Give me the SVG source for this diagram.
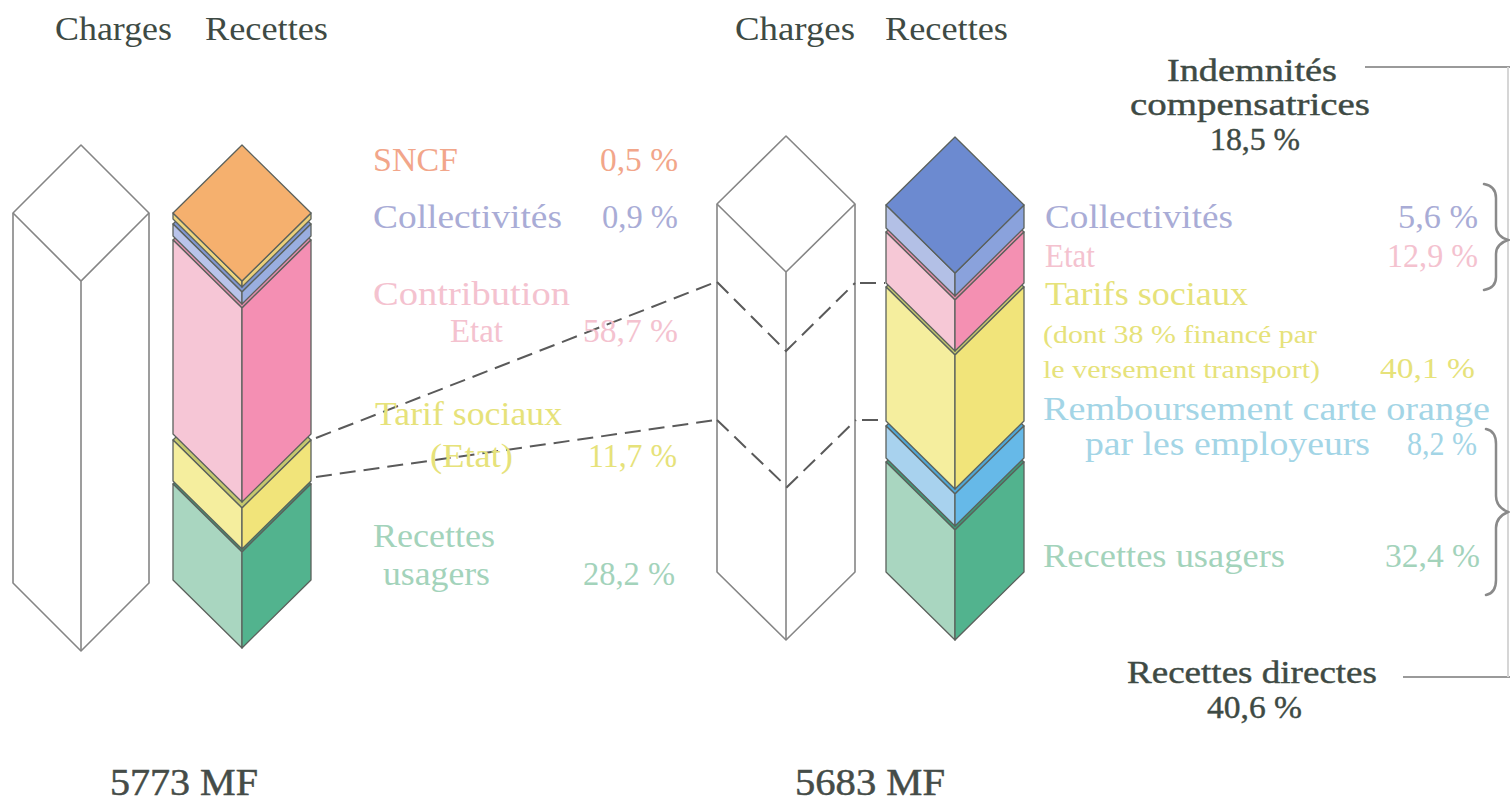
<svg xmlns="http://www.w3.org/2000/svg" width="1510" height="804" viewBox="0 0 1510 804">
<style>
text{font-family:"Liberation Serif","DejaVu Serif",serif;font-size:34px}
.hd{fill:#3e4a44}
.dk{fill:#3e4a44;stroke:#3e4a44;stroke-width:0.4;font-size:31px}
.tot{fill:#454c48;font-size:38px;stroke:#454c48;stroke-width:0.5}
.or{fill:#f2a68a}
.co{fill:#a9acd6}
.pk{fill:#f4c2cf}
.ye{fill:#e6e27a}
.gr{fill:#a3d3bb}
.lb{fill:#a3d5e6}
.sm{font-size:25px}
.md{font-size:30px}
.ch{fill:#fff;stroke:#858585;stroke-width:1.6;stroke-linejoin:round}
.chl{fill:none;stroke:#858585;stroke-width:1.6}
.f{stroke:#5b615c;stroke-width:1.3;stroke-linejoin:round}
.dash{fill:none;stroke:#5a5a5a;stroke-width:2;stroke-dasharray:16 8}
.br{fill:none;stroke:#8a8a8a;stroke-width:2.5;stroke-linecap:round}
.rl{fill:none;stroke:#9a9a9a;stroke-width:2}
</style>

<g id="headers">
<text class="hd" x="55" y="40" textLength="117" lengthAdjust="spacingAndGlyphs">Charges</text>
<text class="hd" x="205" y="40" textLength="123" lengthAdjust="spacingAndGlyphs">Recettes</text>
<text class="hd" x="735" y="40" textLength="120" lengthAdjust="spacingAndGlyphs">Charges</text>
<text class="hd" x="885" y="40" textLength="123" lengthAdjust="spacingAndGlyphs">Recettes</text>
</g>

<g id="charges-left">
<path class="ch" d="M81,145 L149,213 L149,583 L81,651 L13,583 L13,213 Z"/>
<path class="chl" d="M13,213 L81,281 L149,213 M81,281 L81,651"/>
</g>

<g id="recettes-left">
<path class="f" fill="#3f9a78" d="M242,416 L311,484 L242,552 L173,484 Z"/>
<path class="f" fill="#a9d6c0" d="M173,484 L242,552 L242,648 L173,580 Z"/>
<path class="f" fill="#52b38e" d="M242,552 L311,484 L311,580 L242,648 Z"/>
<path class="f" fill="#c5c86e" d="M242,372 L311,440 L242,508 L173,440 Z"/>
<path class="f" fill="#f5ee9e" d="M173,440 L242,508 L242,549 L173,481 Z"/>
<path class="f" fill="#f1e47a" d="M242,508 L311,440 L311,481 L242,549 Z"/>
<path class="f" fill="#e08cab" d="M242,172 L311,240 L242,308 L173,240 Z"/>
<path class="f" fill="#f6c6d6" d="M173,240 L242,308 L242,502 L173,434 Z"/>
<path class="f" fill="#f48fb3" d="M242,308 L311,240 L311,434 L242,502 Z"/>
<path class="f" fill="#7f96cf" d="M242,156 L311,224 L242,292 L173,224 Z"/>
<path class="f" fill="#b9c4ea" d="M173,224 L242,292 L242,304 L173,236 Z"/>
<path class="f" fill="#9aaee0" d="M242,292 L311,224 L311,236 L242,304 Z"/>
<path class="f" fill="#eed67e" d="M173,213 L242,281 L242,287 L173,219 Z"/>
<path class="f" fill="#ead07a" d="M242,281 L311,213 L311,219 L242,287 Z"/>
<path class="f" fill="#f5b06e" d="M242,145 L311,213 L242,281 L173,213 Z"/>
</g>

<g id="charges-right">
<path class="ch" d="M786,136 L855,204 L855,572 L786,640 L717,572 L717,204 Z"/>
<path class="chl" d="M717,204 L786,272 L855,204 M786,272 L786,640"/>
</g>

<g id="recettes-right">
<path class="f" fill="#3f9a78" d="M955,394 L1024,462 L955,530 L886,462 Z"/>
<path class="f" fill="#a9d6c0" d="M886,462 L955,530 L955,640 L886,572 Z"/>
<path class="f" fill="#52b38e" d="M955,530 L1024,462 L1024,572 L955,640 Z"/>
<path class="f" fill="#4fa6d6" d="M955,358 L1024,426 L955,494 L886,426 Z"/>
<path class="f" fill="#a8d2ee" d="M886,426 L955,494 L955,526 L886,458 Z"/>
<path class="f" fill="#66b9e8" d="M955,494 L1024,426 L1024,458 L955,526 Z"/>
<path class="f" fill="#c5c86e" d="M955,219 L1024,287 L955,355 L886,287 Z"/>
<path class="f" fill="#f5ee9e" d="M886,287 L955,355 L955,489 L886,421 Z"/>
<path class="f" fill="#f1e47a" d="M955,355 L1024,287 L1024,421 L955,489 Z"/>
<path class="f" fill="#e38aa8" d="M955,164 L1024,232 L955,300 L886,232 Z"/>
<path class="f" fill="#f6c8d6" d="M886,232 L955,300 L955,351 L886,283 Z"/>
<path class="f" fill="#f490b2" d="M955,300 L1024,232 L1024,283 L955,351 Z"/>
<path class="f" fill="#b3c0e6" d="M886,205 L955,273 L955,296 L886,228 Z"/>
<path class="f" fill="#8aa2dc" d="M955,273 L1024,205 L1024,228 L955,296 Z"/>
<path class="f" fill="#6c8ad0" d="M955,137 L1024,205 L955,273 L886,205 Z"/>
</g>

<g id="connectors">
<path class="dash" d="M316,438 L716,282"/>
<path class="dash" d="M316,477 L716,420"/>
<path class="dash" d="M717,282 L786,351 L855,283"/>
<path class="dash" d="M717,420 L787,487 L856,420"/>
<path class="dash" d="M860,283 L885,283"/>
<path class="dash" d="M862,420 L885,420"/>
</g>

<g id="labels-left">
<text class="or" x="373" y="171" textLength="85" lengthAdjust="spacingAndGlyphs">SNCF</text>
<text class="or" x="600" y="171" textLength="78" lengthAdjust="spacingAndGlyphs">0,5 %</text>
<text class="co" x="373" y="228" textLength="189" lengthAdjust="spacingAndGlyphs">Collectivités</text>
<text class="co" x="602" y="228" textLength="76" lengthAdjust="spacingAndGlyphs">0,9 %</text>
<text class="pk" x="373" y="305" textLength="197" lengthAdjust="spacingAndGlyphs">Contribution</text>
<text class="pk" x="450" y="342" textLength="53" lengthAdjust="spacingAndGlyphs">Etat</text>
<text class="pk" x="583" y="342" textLength="95" lengthAdjust="spacingAndGlyphs">58,7 %</text>
<text class="ye" x="375" y="425" textLength="187" lengthAdjust="spacingAndGlyphs">Tarif sociaux</text>
<text class="ye" x="430" y="467" textLength="83" lengthAdjust="spacingAndGlyphs">(Etat)</text>
<text class="ye" x="588" y="467" textLength="89" lengthAdjust="spacingAndGlyphs">11,7 %</text>
<text class="gr" x="373" y="547" textLength="122" lengthAdjust="spacingAndGlyphs">Recettes</text>
<text class="gr" x="383" y="585" textLength="107" lengthAdjust="spacingAndGlyphs">usagers</text>
<text class="gr" x="583" y="585" textLength="92" lengthAdjust="spacingAndGlyphs">28,2 %</text>
</g>

<g id="labels-right">
<text class="dk" x="1167" y="81" textLength="170" lengthAdjust="spacingAndGlyphs">Indemnités</text>
<text class="dk" x="1130" y="115" textLength="240" lengthAdjust="spacingAndGlyphs">compensatrices</text>
<text class="dk" x="1210" y="150" textLength="90" lengthAdjust="spacingAndGlyphs">18,5 %</text>
<text class="co" x="1045" y="228" textLength="188" lengthAdjust="spacingAndGlyphs">Collectivités</text>
<text class="co" x="1398" y="228" textLength="80" lengthAdjust="spacingAndGlyphs">5,6 %</text>
<text class="pk" x="1045" y="267" textLength="50" lengthAdjust="spacingAndGlyphs">Etat</text>
<text class="pk" x="1387" y="267" textLength="91" lengthAdjust="spacingAndGlyphs">12,9 %</text>
<text class="ye" x="1045" y="305" textLength="203" lengthAdjust="spacingAndGlyphs">Tarifs sociaux</text>
<text class="ye sm" x="1043" y="343" textLength="274" lengthAdjust="spacingAndGlyphs">(dont 38 % financé par</text>
<text class="ye sm" x="1043" y="378" textLength="277" lengthAdjust="spacingAndGlyphs">le versement transport)</text>
<text class="ye md" x="1380" y="378" textLength="95" lengthAdjust="spacingAndGlyphs">40,1 %</text>
<text class="lb" x="1043" y="420" textLength="447" lengthAdjust="spacingAndGlyphs">Remboursement carte orange</text>
<text class="lb" x="1085" y="455" textLength="285" lengthAdjust="spacingAndGlyphs">par les employeurs</text>
<text class="lb" x="1407" y="455" textLength="70" lengthAdjust="spacingAndGlyphs">8,2 %</text>
<text class="gr" x="1043" y="567" textLength="242" lengthAdjust="spacingAndGlyphs">Recettes usagers</text>
<text class="gr" x="1385" y="567" textLength="95" lengthAdjust="spacingAndGlyphs">32,4 %</text>
<text class="dk" x="1127" y="683" textLength="250" lengthAdjust="spacingAndGlyphs">Recettes directes</text>
<text class="dk" x="1207" y="718" textLength="95" lengthAdjust="spacingAndGlyphs">40,6 %</text>
</g>

<g id="brackets">
<path class="rl" d="M1365,67 L1510,67"/>
<path class="rl" d="M1403,677 L1510,677"/>
<path d="M1508,67 L1508,677" fill="none" stroke="#d6d6d6" stroke-width="2"/>
<path class="br" d="M1484,184 Q1496,186 1496,198 L1496,226 Q1496,236 1508,240 Q1496,244 1496,254 L1496,277 Q1496,288 1484,290"/>
<path class="br" d="M1486,429 Q1496,431 1496,444 L1496,496 Q1496,507 1508,512 Q1496,517 1496,528 L1496,580 Q1496,593 1486,595"/>
</g>

<g id="totals">
<text class="tot" x="110" y="795" textLength="148" lengthAdjust="spacingAndGlyphs">5773 MF</text>
<text class="tot" x="795" y="795" textLength="150" lengthAdjust="spacingAndGlyphs">5683 MF</text>
</g>
</svg>
